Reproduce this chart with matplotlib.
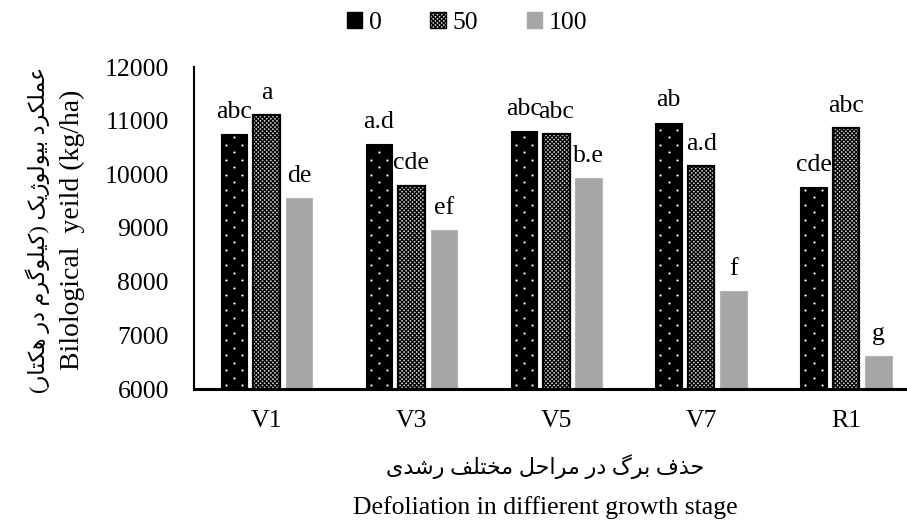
import matplotlib
matplotlib.use("Agg")
import matplotlib.pyplot as plt
import numpy as np
from matplotlib.patches import Patch

# ---- data -------------------------------------------------------------
stages = ["V1", "V3", "V5", "V7", "R1"]
levels = ["0", "50", "100"]
yield_0 = [10750, 10565, 10810, 10965, 9770]
yield_50 = [11105, 9790, 10750, 10160, 10855]
yield_100 = [9565, 8960, 9925, 7825, 6615]
letters_0 = ["abc", "a.d", "abc", "ab", "cde"]
letters_50 = ["a", "cde", "abc", "a.d", "abc"]
letters_100 = ["de", "ef", "b.e", "f", "g"]

ylabel_en = "Bilological  yeild (kg/ha)"
ylabel_fa = "عملکرد بیولوژیک (کیلوگرم در هکتار)"
xlabel_en = "Defoliation in diffierent growth stage"
xlabel_fa = "حذف برگ در مراحل مختلف رشدی"

# ---- minimal Persian shaping (contextual forms + visual order) --------
# letter: (isolated, final, initial, medial); right-joining letters have 2 forms
FORMS = {
    "ا": (0xFE8D, 0xFE8E), "ب": (0xFE8F, 0xFE90, 0xFE91, 0xFE92),
    "ت": (0xFE95, 0xFE96, 0xFE97, 0xFE98), "ح": (0xFEA1, 0xFEA2, 0xFEA3, 0xFEA4),
    "خ": (0xFEA5, 0xFEA6, 0xFEA7, 0xFEA8), "د": (0xFEA9, 0xFEAA),
    "ذ": (0xFEAB, 0xFEAC), "ر": (0xFEAD, 0xFEAE), "ژ": (0xFB8A, 0xFB8B),
    "ش": (0xFEB5, 0xFEB6, 0xFEB7, 0xFEB8), "ع": (0xFEC9, 0xFECA, 0xFECB, 0xFECC),
    "ف": (0xFED1, 0xFED2, 0xFED3, 0xFED4), "ک": (0xFB8E, 0xFB8F, 0xFB90, 0xFB91),
    "گ": (0xFB92, 0xFB93, 0xFB94, 0xFB95), "ل": (0xFEDD, 0xFEDE, 0xFEDF, 0xFEE0),
    "م": (0xFEE1, 0xFEE2, 0xFEE3, 0xFEE4), "ه": (0xFEE9, 0xFEEA, 0xFEEB, 0xFEEC),
    "و": (0xFEED, 0xFEEE), "ی": (0xFBFC, 0xFBFD, 0xFBFE, 0xFBFF),
}


def shape_rtl(text):
    out = []
    n = len(text)
    for i, ch in enumerate(text):
        if ch not in FORMS:
            out.append(ch)
            continue
        f = FORMS[ch]
        prev_c = text[i - 1] if i > 0 else ""
        next_c = text[i + 1] if i < n - 1 else ""
        join_prev = prev_c in FORMS and len(FORMS[prev_c]) == 4
        join_next = len(f) == 4 and next_c in FORMS
        if join_prev and join_next:
            out.append(chr(f[3]))
        elif join_prev:
            out.append(chr(f[1]))
        elif join_next:
            out.append(chr(f[2]))
        else:
            out.append(chr(f[0]))
    mirror = {"(": ")", ")": "("}
    return "".join(mirror.get(c, c) for c in reversed(out))


# ---- style ------------------------------------------------------------
plt.rcParams["font.family"] = ["Liberation Serif", "DejaVu Sans"]
plt.rcParams["hatch.linewidth"] = 0.9
FS = 18.5
FS_FA = 16

W, H = 907, 526
fig = plt.figure(figsize=(W / 100, H / 100), dpi=100)
ax = fig.add_axes([194 / W, 1 - 389 / H, (918.5 - 194) / W, (389 - 67) / H])

x = np.arange(len(stages))
bw = 0.183
off = 0.224
CHECK = "xxxxxxxx"
YMIN, YMAX = 6000, 12000

# level 0: black bars with a staggered pattern of small white dots
ax.bar(x - off, np.array(yield_0) - YMIN, bw, bottom=YMIN, color="black",
       edgecolor="black", linewidth=0.8, zorder=2)
dot_dx = bw * 0.31
dot_dy = 140
dots_x, dots_y = [], []
for xc, top in zip(x - off, yield_0):
    for k, yy in enumerate(np.arange(YMIN + dot_dy * 0.5, top - dot_dy * 0.3, dot_dy)):
        cols = [xc] if k % 2 else [xc - dot_dx, xc + dot_dx]
        dots_x.extend(cols)
        dots_y.extend([yy] * len(cols))
ax.scatter(dots_x, dots_y, s=2.5, color="white", linewidths=0, zorder=3)

# level 50: fine black/white checker
ax.bar(x, np.array(yield_50) - YMIN, bw, bottom=YMIN, facecolor="#d0d0d0",
       edgecolor="black", hatch=CHECK, linewidth=1.6, zorder=2)
# level 100: plain grey
ax.bar(x + off, np.array(yield_100) - YMIN, bw, bottom=YMIN, color="#a6a6a6",
       edgecolor="#b4b4b4", linewidth=0.8, zorder=2)

for vals, labs, dx in ((yield_0, letters_0, -off), (yield_50, letters_50, 0),
                       (yield_100, letters_100, off)):
    for xi, v, s in zip(x, vals, labs):
        ax.annotate(s, (xi + dx, v), xytext=(0, 8), textcoords="offset points",
                    ha="center", va="bottom", fontsize=FS)

ax.set_xlim(-0.5, 4.5)
ax.set_ylim(YMIN, YMAX)
ax.set_yticks(np.arange(YMIN, YMAX + 1, 1000))
ax.set_xticks(x)
ax.set_xticklabels(stages)
ax.tick_params(axis="y", length=0, pad=18, labelsize=FS)
ax.tick_params(axis="x", length=0, pad=15, labelsize=FS)
for s in ("top", "right"):
    ax.spines[s].set_visible(False)
ax.spines["left"].set_linewidth(1.5)
ax.spines["bottom"].set_linewidth(2.2)

# axis titles
fig.text(72 / W, 1 - 230 / H, ylabel_en, rotation=90, ha="center", va="center",
         fontsize=20)
fig.text(38 / W, 1 - 230 / H, shape_rtl(ylabel_fa), rotation=90, ha="center",
         va="center", fontsize=FS_FA)
fig.text(545 / W, 1 - 467 / H, shape_rtl(xlabel_fa), ha="center", va="center",
         fontsize=FS_FA)
fig.text(545 / W, 1 - 508 / H, xlabel_en, ha="center", va="center", fontsize=FS)

handles = [
    Patch(facecolor="black", edgecolor="black"),
    Patch(facecolor="#d0d0d0", edgecolor="black", hatch=CHECK),
    Patch(facecolor="#a6a6a6", edgecolor="#a6a6a6"),
]
fig.legend(handles, levels, loc="center", bbox_to_anchor=(467 / W, 1 - 23 / H),
           ncol=3, frameon=False, fontsize=FS, handlelength=0.6,
           handleheight=0.6, handletextpad=0.25, columnspacing=1.9,
           borderpad=0)

fig.savefig("out.png", dpi=100)
